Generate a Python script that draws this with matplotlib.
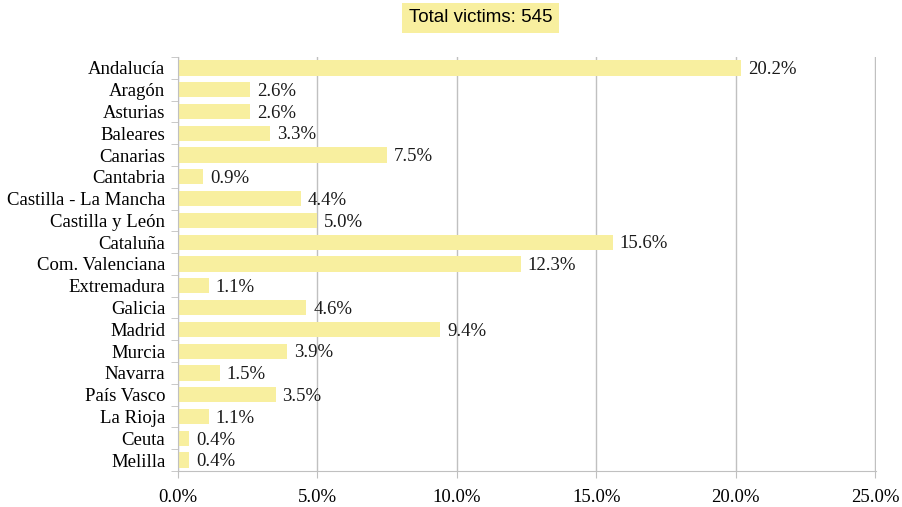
import matplotlib
matplotlib.use('Agg')
from matplotlib import pyplot as plt
import numpy as np

# Share of victims by autonomous community (%)
regions = ['Andalucía', 'Aragón', 'Asturias', 'Baleares', 'Canarias', 'Cantabria',
           'Castilla - La Mancha', 'Castilla y León', 'Cataluña', 'Com. Valenciana',
           'Extremadura', 'Galicia', 'Madrid', 'Murcia', 'Navarra', 'País Vasco',
           'La Rioja', 'Ceuta', 'Melilla']
shares = [20.2, 2.6, 2.6, 3.3, 7.5, 0.9, 4.4, 5.0, 15.6, 12.3,
          1.1, 4.6, 9.4, 3.9, 1.5, 3.5, 1.1, 0.4, 0.4]
total_victims = 545

xticks = [0, 5, 10, 15, 20, 25]

serif = 'Liberation Serif'
grid_col = '#c0c0c0'
fs = 13.5

fig = plt.figure(figsize=(9.02, 5.07), dpi=100)
ax = fig.add_axes([0.1973, 0.071, 0.774, 0.8166])

pos = np.arange(len(regions))
ax.barh(pos, shares, height=0.7, color='#f8ef9f', zorder=2)

# value labels at end of each bar
for y, v in zip(pos, shares):
    ax.text(v + 0.25, y + 0.08, '%.1f%%' % v, va='center', ha='left',
            fontsize=fs, family=serif, color='#1a1a1a')

ax.set_ylim(len(regions) - 0.5, -0.5)
ax.set_xlim(0, 25.04)
ax.set_yticks(pos)
ax.set_yticklabels(regions, fontsize=fs, family=serif)
ax.set_yticks(np.arange(-0.5, len(regions)), minor=True)
ax.tick_params(axis='y', which='major', length=0, pad=9)
ax.tick_params(axis='y', which='minor', length=5, color=grid_col, direction='out')

ax.set_xticks(xticks)
ax.set_xticklabels(['%.1f%%' % t for t in xticks], fontsize=fs, family=serif)
ax.tick_params(axis='x', length=5, color=grid_col, pad=8)

ax.grid(axis='x', color=grid_col, linewidth=1, zorder=0)
for s in ['top', 'right']:
    ax.spines[s].set_visible(False)
for s in ['left', 'bottom']:
    ax.spines[s].set_color(grid_col)

fig.text(0.533, 0.965, 'Total victims: %d' % total_victims, ha='center', va='center',
         fontsize=13.5, family='Liberation Sans',
         bbox=dict(boxstyle='square,pad=0.35', facecolor='#f8ef9f', edgecolor='none'))

plt.savefig('out.png', dpi=100)
